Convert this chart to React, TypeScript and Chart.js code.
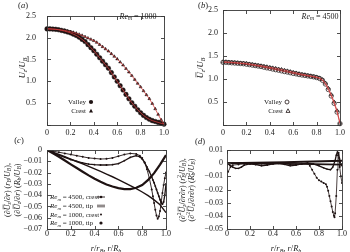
import React, { useEffect, useRef } from 'react';
import { Chart, registerables } from 'chart.js';

Chart.register(...registerables);

const FAMILY = '"Liberation Serif", "Times New Roman", serif';
const INK = '#1e1212';
const RED = '#d23c3c';
const AXIS = '#3a3a3a';
const TEXT = '#1a1a1a';

// ---------- Panel (a): Re_m = 1000 ----------
const rGridA = [0, 0.025, 0.05, 0.075, 0.1, 0.125, 0.15, 0.175, 0.2, 0.225, 0.25, 0.275, 0.3, 0.325, 0.35, 0.375, 0.4, 0.425, 0.45, 0.475, 0.5, 0.525, 0.55, 0.575, 0.6, 0.625, 0.65, 0.675, 0.7, 0.725, 0.75, 0.775, 0.8, 0.825, 0.85, 0.875, 0.9, 0.925, 0.95, 0.975, 1.0];
const valleyA = [2.2, 2.2, 2.195, 2.19, 2.18, 2.165, 2.15, 2.13, 2.11, 2.08, 2.05, 2.01, 1.96, 1.91, 1.84, 1.77, 1.7, 1.62, 1.54, 1.46, 1.38, 1.3, 1.2, 1.1, 1.0, 0.9, 0.8, 0.7, 0.6, 0.51, 0.43, 0.35, 0.28, 0.22, 0.17, 0.13, 0.1, 0.08, 0.06, 0.04, 0.02];
const crestA = [2.2, 2.2, 2.195, 2.19, 2.185, 2.175, 2.165, 2.15, 2.135, 2.12, 2.1, 2.075, 2.05, 2.02, 1.99, 1.96, 1.93, 1.89, 1.84, 1.79, 1.74, 1.69, 1.63, 1.57, 1.51, 1.44, 1.37, 1.29, 1.21, 1.13, 1.04, 0.95, 0.87, 0.78, 0.69, 0.6, 0.49, 0.37, 0.24, 0.12, 0.02];

// ---------- Panel (b): Re_m = 4500 ----------
const rGridB = [0, 0.025, 0.05, 0.075, 0.1, 0.125, 0.15, 0.175, 0.2, 0.225, 0.25, 0.275, 0.3, 0.325, 0.35, 0.375, 0.4, 0.425, 0.45, 0.475, 0.5, 0.525, 0.55, 0.575, 0.6, 0.625, 0.65, 0.675, 0.7, 0.725, 0.75, 0.775, 0.8, 0.825, 0.85, 0.875, 0.9, 0.925, 0.95, 0.975, 1.0];
const valleyB = [1.36, 1.36, 1.355, 1.35, 1.345, 1.34, 1.335, 1.33, 1.32, 1.31, 1.3, 1.29, 1.28, 1.27, 1.255, 1.24, 1.23, 1.215, 1.2, 1.19, 1.175, 1.16, 1.15, 1.135, 1.12, 1.11, 1.095, 1.085, 1.075, 1.065, 1.055, 1.045, 1.03, 1.01, 0.97, 0.89, 0.77, 0.63, 0.47, 0.28, 0.03];
const crestB = [1.37, 1.37, 1.365, 1.36, 1.355, 1.35, 1.345, 1.34, 1.335, 1.325, 1.315, 1.305, 1.295, 1.285, 1.275, 1.265, 1.25, 1.24, 1.23, 1.215, 1.205, 1.19, 1.175, 1.16, 1.145, 1.13, 1.115, 1.1, 1.09, 1.075, 1.065, 1.05, 1.04, 1.02, 0.985, 0.91, 0.8, 0.66, 0.5, 0.31, 0.04];

// ---------- Panel (c): first derivative ----------
const rC1000 = [0, 0.05, 0.1, 0.15, 0.2, 0.25, 0.3, 0.35, 0.4, 0.45, 0.5, 0.55, 0.6, 0.65, 0.7, 0.75, 0.8, 0.85, 0.9, 0.95, 1.0];
const tip1000C = [0, -0.003, -0.006, -0.0093, -0.0127, -0.016, -0.0193, -0.0225, -0.0255, -0.0282, -0.0305, -0.0324, -0.0338, -0.0347, -0.0347, -0.0335, -0.031, -0.0265, -0.0205, -0.013, -0.0045];
const crest1000C = [0, -0.002, -0.004, -0.006, -0.0081, -0.0102, -0.0123, -0.0145, -0.0167, -0.019, -0.0213, -0.0237, -0.0262, -0.0288, -0.0315, -0.0343, -0.0372, -0.0405, -0.0442, -0.0485, -0.0555];
const rC4500 = [0, 0.05, 0.1, 0.15, 0.2, 0.25, 0.3, 0.35, 0.4, 0.45, 0.5, 0.55, 0.6, 0.65, 0.7, 0.75, 0.78, 0.8, 0.82, 0.84, 0.86, 0.88, 0.89, 0.9, 0.91, 0.92, 0.93, 0.94, 0.95, 0.96, 0.97, 0.98, 0.99, 1.0];
const crest4500C = [0, -0.001, -0.002, -0.003, -0.004, -0.005, -0.006, -0.007, -0.0075, -0.008, -0.0078, -0.007, -0.0055, -0.004, -0.003, -0.0035, -0.005, -0.007, -0.011, -0.017, -0.025, -0.035, -0.041, -0.047, -0.053, -0.058, -0.061, -0.059, -0.054, -0.046, -0.038, -0.031, -0.025, -0.02];
const tip4500C = [0, -0.0025, -0.0045, -0.0065, -0.0085, -0.01, -0.0115, -0.0125, -0.013, -0.0133, -0.0133, -0.013, -0.012, -0.0095, -0.0065, -0.005, -0.006, -0.008, -0.011, -0.015, -0.019, -0.024, -0.0265, -0.029, -0.032, -0.035, -0.038, -0.041, -0.044, -0.047, -0.048, -0.046, -0.04, -0.03];

// ---------- Panel (d): second derivative ----------
const rD4500crest = [0.01, 0.03, 0.05, 0.1, 0.15, 0.2, 0.25, 0.3, 0.35, 0.4, 0.45, 0.5, 0.55, 0.6, 0.65, 0.7, 0.72, 0.74, 0.76, 0.78, 0.8, 0.82, 0.84, 0.86, 0.87, 0.88, 0.89, 0.9, 0.91, 0.92, 0.93, 0.935, 0.94, 0.95, 0.96, 0.965, 0.97, 0.975, 0.98, 0.99, 1.0];
const crest4500D = [-0.0065, -0.003, -0.0015, -0.001, -0.0005, -0.0005, -0.001, -0.0015, -0.001, -0.0005, 0, -0.0005, -0.001, -0.001, -0.0005, 0, -0.002, -0.005, -0.008, -0.011, -0.013, -0.014, -0.015, -0.016, -0.018, -0.021, -0.025, -0.029, -0.033, -0.037, -0.04, -0.041, -0.038, -0.025, -0.005, 0.006, 0.008, 0.004, -0.003, -0.01, -0.015];
const rD4500tip = [0, 0.025, 0.05, 0.075, 0.1, 0.125, 0.15, 0.2, 0.25, 0.3, 0.35, 0.4, 0.45, 0.5, 0.55, 0.6, 0.65, 0.7, 0.75, 0.8, 0.84, 0.87, 0.9, 0.92, 0.94, 0.95, 0.96, 0.97, 0.98, 0.99, 1.0];
const tip4500D = [0, -0.0015, -0.003, -0.004, -0.004, -0.003, -0.0015, -0.0005, -0.001, -0.002, -0.0015, -0.0005, 0, -0.001, -0.002, -0.0015, -0.0005, 0, -0.0005, -0.002, -0.0035, -0.0045, -0.005, -0.003, 0.002, 0.006, 0.0085, 0.007, 0.002, -0.001, -0.002];
const rD1000 = [0, 0.25, 0.5, 0.75, 1.0];
const crest1000D = [0, 0.0003, 0.0007, 0.0012, 0.0019];
const tip1000D = [0, -0.0002, -0.0004, -0.0007, -0.0011];

// ---------- tick labels ----------
const xTickLabels = ['0', '0.2', '0.4', '0.6', '0.8', '1.0'];

// ---------- rich text helpers ----------
type Seg = { t: string; i?: boolean; o?: boolean; b?: string; p?: string };

function fnt(size: number, italic: boolean) {
  return `${italic ? 'italic ' : ''}${size}px ${FAMILY}`;
}

function segW(ctx: CanvasRenderingContext2D, s: Seg, fs: number) {
  ctx.font = fnt(fs, !!s.i);
  const w = ctx.measureText(s.t).width;
  let ws = 0;
  if (s.b) { ctx.font = fnt(fs * 0.7, true); ws = Math.max(ws, ctx.measureText(s.b).width); }
  if (s.p) { ctx.font = fnt(fs * 0.7, false); ws = Math.max(ws, ctx.measureText(s.p).width); }
  return w + ws;
}

function rich(ctx: CanvasRenderingContext2D, x: number, y: number, segs: Seg[], fs: number, align: 'left' | 'center' | 'right') {
  const total = segs.reduce((a, s) => a + segW(ctx, s, fs), 0);
  let cx = align === 'left' ? x : align === 'center' ? x - total / 2 : x - total;
  const base = y + fs * 0.32;
  ctx.textAlign = 'left';
  ctx.textBaseline = 'alphabetic';
  ctx.fillStyle = TEXT;
  for (const s of segs) {
    ctx.font = fnt(fs, !!s.i);
    const w = ctx.measureText(s.t).width;
    ctx.fillText(s.t, cx, base);
    if (s.o) {
      ctx.save();
      ctx.strokeStyle = TEXT;
      ctx.lineWidth = 0.6;
      ctx.beginPath();
      ctx.moveTo(cx + 1, base - fs * 0.8);
      ctx.lineTo(cx + w, base - fs * 0.8);
      ctx.stroke();
      ctx.restore();
    }
    cx += w;
    let ws = 0;
    if (s.b) {
      ctx.font = fnt(fs * 0.7, true);
      ctx.fillText(s.b, cx, base + fs * 0.22);
      ws = Math.max(ws, ctx.measureText(s.b).width);
    }
    if (s.p) {
      ctx.font = fnt(fs * 0.7, false);
      ctx.fillText(s.p, cx, base - fs * 0.4);
      ws = Math.max(ws, ctx.measureText(s.p).width);
    }
    cx += ws;
  }
}

function vrich(ctx: CanvasRenderingContext2D, x: number, y: number, segs: Seg[], fs: number) {
  ctx.save();
  ctx.translate(x, y);
  ctx.rotate(-Math.PI / 2);
  rich(ctx, 0, 0, segs, fs, 'center');
  ctx.restore();
}

const pts = (xs: number[], ys: number[]) => xs.map((x, i) => ({ x, y: ys[i] }));

function marker(ctx: CanvasRenderingContext2D, kind: 'circle' | 'triangle', x: number, y: number, r: number, filled: boolean) {
  ctx.save();
  ctx.beginPath();
  if (kind === 'circle') {
    ctx.arc(x, y, r, 0, Math.PI * 2);
  } else {
    ctx.moveTo(x, y - r * 1.1);
    ctx.lineTo(x + r, y + r * 0.7);
    ctx.lineTo(x - r, y + r * 0.7);
    ctx.closePath();
  }
  if (filled) { ctx.fillStyle = INK; ctx.fill(); }
  else { ctx.strokeStyle = INK; ctx.lineWidth = 0.8; ctx.stroke(); }
  ctx.restore();
}

const ReSeg = (v: string, tail = ''): Seg[] => [{ t: 'Re', i: true, b: 'm' }, { t: ` = ${v}${tail}` }];
const xTitle: Seg[] = [{ t: 'r', i: true }, { t: '/' }, { t: 'r', i: true, b: 'B' }, { t: ', ' }, { t: 'r', i: true }, { t: '/' }, { t: 'R', i: true, b: 'b' }];

// ---------- frame plugin: full box with inward ticks ----------
const framePlugin = {
  id: 'frameBox',
  afterDatasetsDraw(chart: any) {
    const { ctx, chartArea: a, scales } = chart;
    ctx.save();
    ctx.strokeStyle = AXIS;
    ctx.lineWidth = 0.9;
    const L = Math.round(a.left) + 0.5, R = Math.round(a.right) + 0.5;
    const T = Math.round(a.top) + 0.5, B = Math.round(a.bottom) + 0.5;
    ctx.strokeRect(L, T, R - L, B - T);
    const len = 3.5;
    ctx.beginPath();
    for (const t of scales.x.ticks) {
      const px = Math.round(scales.x.getPixelForValue(t.value)) + 0.5;
      ctx.moveTo(px, B); ctx.lineTo(px, B - len);
      ctx.moveTo(px, T); ctx.lineTo(px, T + len);
    }
    for (const t of scales.y.ticks) {
      const py = Math.round(scales.y.getPixelForValue(t.value)) + 0.5;
      ctx.moveTo(L, py); ctx.lineTo(L + len, py);
      ctx.moveTo(R, py); ctx.lineTo(R - len, py);
    }
    ctx.stroke();
    ctx.restore();
  },
};

type Area = { left: number; top: number; right: number; bottom: number };
type Spec = {
  area: Area;
  yMin: number; yMax: number; yStep: number;
  yFmt: (v: number) => string;
  yPad: number; xPad: number;
  datasets: any[];
  overlay: (ctx: CanvasRenderingContext2D) => void;
};

const W = 350, H = 252, XH = 16;

function build(canvas: HTMLCanvasElement, spec: Spec) {
  const overlayPlugin = {
    id: 'overlay',
    afterDraw(chart: any) {
      const ctx = chart.ctx as CanvasRenderingContext2D;
      ctx.save();
      spec.overlay(ctx);
      ctx.restore();
    },
  };
  const tickFont = { family: FAMILY, size: 8 };
  return new Chart(canvas, {
    type: 'scatter',
    data: { datasets: spec.datasets },
    options: {
      responsive: false,
      animation: false,
      devicePixelRatio: 1,
      events: [],
      layout: {
        padding: { left: 0, top: spec.area.top, right: W - spec.area.right, bottom: H - spec.area.bottom - XH },
      },
      plugins: { legend: { display: false }, tooltip: { enabled: false } },
      scales: {
        x: {
          type: 'linear', min: 0, max: 1,
          ticks: {
            stepSize: 0.2, font: tickFont, color: TEXT, padding: spec.xPad, maxRotation: 0, autoSkip: false,
            callback: (v: any) => xTickLabels[Math.round(Number(v) / 0.2)] ?? '',
          },
          grid: { display: false, drawTicks: false },
          border: { display: false },
          afterFit: (s: any) => { s.height = XH; },
        },
        y: {
          type: 'linear', min: spec.yMin, max: spec.yMax,
          ticks: {
            stepSize: spec.yStep, font: tickFont, color: TEXT, padding: spec.yPad, autoSkip: false,
            callback: (v: any) => spec.yFmt(Number(v)),
          },
          grid: { display: false, drawTicks: false },
          border: { display: false },
          afterFit: (s: any) => { s.width = spec.area.left; },
        },
      },
    } as any,
    plugins: [framePlugin, overlayPlugin],
  });
}

const fmtU = (v: number) => (Math.abs(v) < 1e-9 ? '' : v.toFixed(1));
const fmtD = (v: number) => (Math.abs(v) < 1e-9 ? '0' : (v < 0 ? '\u2212' : '') + Math.abs(v).toFixed(2));

const redLine = (xs: number[], ys: number[]) => ({
  data: pts(xs, ys), showLine: true, borderColor: RED, borderWidth: 0.8, pointRadius: 0, clip: false,
});

export default function App() {
  const ra = useRef<HTMLCanvasElement>(null);
  const rb = useRef<HTMLCanvasElement>(null);
  const rc = useRef<HTMLCanvasElement>(null);
  const rd = useRef<HTMLCanvasElement>(null);

  useEffect(() => {
    const charts: Chart[] = [];

    charts.push(build(ra.current!, {
      area: { left: 47, top: 5, right: 164, bottom: 125 },
      yMin: 0, yMax: 2.5, yStep: 0.5, yFmt: fmtU, yPad: 11, xPad: 3,
      datasets: [
        redLine(rGridA, valleyA),
        redLine(rGridA, crestA),
        { data: pts(rGridA, crestA), pointStyle: 'triangle', pointRadius: 1.7, pointBackgroundColor: INK, pointBorderColor: INK, pointBorderWidth: 0.5, clip: false },
        { data: pts(rGridA, valleyA), pointStyle: 'circle', pointRadius: 2.3, pointBackgroundColor: INK, pointBorderColor: INK, pointBorderWidth: 0.5, clip: false },
      ],
      overlay: (ctx) => {
        rich(ctx, 23, 5, [{ t: '(' }, { t: 'a', i: true }, { t: ')' }], 8.5, 'center');
        vrich(ctx, 22, 68, [{ t: 'U', i: true, b: 'z' }, { t: '/' }, { t: 'U', i: true, b: 'B' }], 8.5);
        rich(ctx, 138, 16, ReSeg('1000'), 8, 'center');
        rich(ctx, 86, 102, [{ t: 'Valley' }], 7, 'right');
        marker(ctx, 'circle', 91, 102, 2.1, true);
        rich(ctx, 86, 111, [{ t: 'Crest' }], 7, 'right');
        marker(ctx, 'triangle', 91, 111, 2.0, true);
      },
    }));

    charts.push(build(rb.current!, {
      area: { left: 223, top: 5, right: 340, bottom: 125 },
      yMin: 0, yMax: 2.5, yStep: 0.5, yFmt: fmtU, yPad: 5, xPad: 3,
      datasets: [
        redLine(rGridB, valleyB),
        redLine(rGridB, crestB),
        { data: pts(rGridB, crestB), pointStyle: 'triangle', pointRadius: 2.0, pointBackgroundColor: 'rgba(0,0,0,0)', pointBorderColor: INK, pointBorderWidth: 0.7, clip: false },
        { data: pts(rGridB, valleyB), pointStyle: 'circle', pointRadius: 2.2, pointBackgroundColor: 'rgba(0,0,0,0)', pointBorderColor: INK, pointBorderWidth: 0.7, clip: false },
      ],
      overlay: (ctx) => {
        rich(ctx, 203, 5, [{ t: '(' }, { t: 'b', i: true }, { t: ')' }], 8.5, 'center');
        vrich(ctx, 200, 68, [{ t: 'U', i: true, o: true, b: 'z' }, { t: '/' }, { t: 'U', i: true, b: 'B' }], 8.5);
        rich(ctx, 320, 16, ReSeg('4500'), 8, 'center');
        rich(ctx, 282, 102, [{ t: 'Valley' }], 7, 'right');
        marker(ctx, 'circle', 287, 102, 2.0, false);
        rich(ctx, 283, 111, [{ t: 'Crest' }], 7, 'right');
        marker(ctx, 'triangle', 288, 111, 2.0, false);
      },
    }));

    charts.push(build(rc.current!, {
      area: { left: 47, top: 150, right: 166, bottom: 229 },
      yMin: -0.07, yMax: 0, yStep: 0.01, yFmt: fmtD, yPad: 5, xPad: 0,
      datasets: [
        { data: pts(rC4500, crest4500C), showLine: true, borderColor: INK, borderWidth: 0.9, pointRadius: 1.0, pointBackgroundColor: INK, pointBorderWidth: 0 },
        { data: pts(rC4500, tip4500C), showLine: true, borderColor: INK, borderWidth: 1.3, pointRadius: 0.9, pointBackgroundColor: INK, pointBorderWidth: 0 },
        { data: pts(rC1000, crest1000C), showLine: true, borderColor: INK, borderWidth: 1.4, pointRadius: 0 },
        { data: pts(rC1000, tip1000C), showLine: true, borderColor: INK, borderWidth: 2.2, pointRadius: 0 },
      ],
      overlay: (ctx) => {
        rich(ctx, 19, 140, [{ t: '(' }, { t: 'c', i: true }, { t: ')' }], 8.5, 'center');
        vrich(ctx, 7, 190, [{ t: '(\u2202' }, { t: 'U', i: true, o: true, b: 'z' }, { t: '/\u2202' }, { t: 'r', i: true }, { t: ') (' }, { t: 'r', i: true, b: 'B' }, { t: '/' }, { t: 'U', i: true, b: 'B' }, { t: '),' }], 8);
        vrich(ctx, 17, 190, [{ t: '(\u2202' }, { t: 'U', i: true, o: true, b: 'z' }, { t: '/\u2202' }, { t: 'r', i: true }, { t: ') (' }, { t: 'R', i: true, b: 'b' }, { t: '/' }, { t: 'U', i: true, b: 'B' }, { t: ')' }], 8);
        rich(ctx, 106, 248, xTitle, 8.5, 'center');
        const rows: [string, string, number][] = [['4500', ', crest', 197], ['4500', ', tip', 206], ['1000', ', crest', 214.5], ['1000', ', tip', 223]];
        rows.forEach(([v, tail, y], k) => {
          rich(ctx, 50, y, ReSeg(v, tail), 7, 'left');
          ctx.save();
          ctx.strokeStyle = INK; ctx.fillStyle = INK;
          if (k === 0) {
            ctx.lineWidth = 0.9; ctx.beginPath(); ctx.moveTo(97, y); ctx.lineTo(105, y); ctx.stroke();
            ctx.beginPath(); ctx.arc(101, y, 1.3, 0, Math.PI * 2); ctx.fill();
          } else if (k === 1) {
            ctx.lineWidth = 0.7; ctx.beginPath(); ctx.moveTo(97, y - 0.8); ctx.lineTo(105, y - 0.8); ctx.moveTo(97, y + 0.8); ctx.lineTo(105, y + 0.8); ctx.stroke();
          } else if (k === 2) {
            ctx.beginPath(); ctx.arc(101, y, 1.0, 0, Math.PI * 2); ctx.fill();
          } else {
            ctx.beginPath(); ctx.arc(101, y, 1.6, 0, Math.PI * 2); ctx.fill();
          }
          ctx.restore();
        });
      },
    }));

    charts.push(build(rd.current!, {
      area: { left: 227, top: 150, right: 342, bottom: 229 },
      yMin: -0.05, yMax: 0.01, yStep: 0.01, yFmt: fmtD, yPad: 4, xPad: 0,
      datasets: [
        { data: pts(rD4500crest, crest4500D), showLine: true, borderColor: INK, borderWidth: 0.8, pointRadius: 1.0, pointBackgroundColor: INK, pointBorderWidth: 0 },
        { data: pts(rD4500tip, tip4500D), showLine: true, borderColor: INK, borderWidth: 1.3, pointRadius: 0.8, pointBackgroundColor: INK, pointBorderWidth: 0 },
        { data: pts(rD1000, crest1000D), showLine: true, borderColor: INK, borderWidth: 2.0, pointRadius: 0 },
        { data: pts(rD1000, tip1000D), showLine: true, borderColor: INK, borderWidth: 1.6, pointRadius: 0 },
      ],
      overlay: (ctx) => {
        rich(ctx, 200, 141, [{ t: '(' }, { t: 'd', i: true }, { t: ')' }], 8.5, 'center');
        vrich(ctx, 182, 190, [{ t: '(\u2202', p: '2' }, { t: 'U', i: true, o: true, b: 'z' }, { t: '/\u2202' }, { t: 'r', i: true }, { t: '\u2202' }, { t: 'r', i: true }, { t: ') (' }, { t: 'r', i: true, b: 'B', p: '2' }, { t: '/' }, { t: 'U', i: true, b: 'B' }, { t: '),' }], 8);
        vrich(ctx, 191, 190, [{ t: '(\u2202', p: '2' }, { t: 'U', i: true, o: true, b: 'z' }, { t: '/\u2202' }, { t: 'r', i: true }, { t: '\u2202' }, { t: 'r', i: true }, { t: ') (' }, { t: 'R', i: true, b: 'b', p: '2' }, { t: '/' }, { t: 'U', i: true, b: 'B' }, { t: ')' }], 8);
        rich(ctx, 286, 248, xTitle, 8.5, 'center');
      },
    }));

    return () => { charts.forEach((c) => c.destroy()); };
  }, []);

  const cs: React.CSSProperties = { position: 'absolute', left: 0, top: 0, width: W, height: H };
  return (
    <div style={{ position: 'fixed', left: 0, top: 0, width: W, height: H, background: '#ffffff' }}>
      <canvas ref={ra} width={W} height={H} style={cs} />
      <canvas ref={rb} width={W} height={H} style={cs} />
      <canvas ref={rc} width={W} height={H} style={cs} />
      <canvas ref={rd} width={W} height={H} style={cs} />
    </div>
  );
}
